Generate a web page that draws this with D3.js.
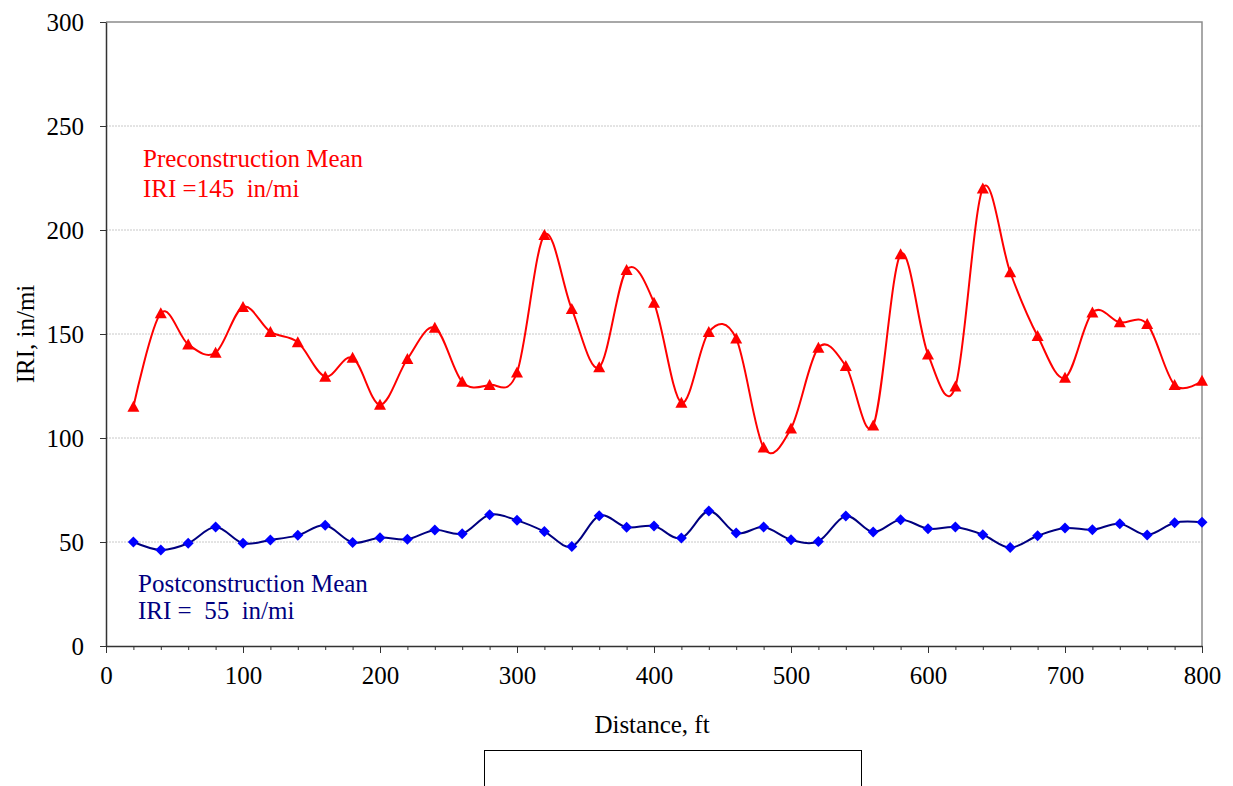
<!DOCTYPE html>
<html><head><meta charset="utf-8">
<script src="https://cdn.jsdelivr.net/npm/d3@7"></script>
<style>body{margin:0;background:#fff}svg{display:block}text{font-family:"Liberation Serif","Times New Roman",serif}</style>
</head><body>
<script>
const distance = d3.range(20, 801, 20);
const preIRI = [115,160,145,141,163,151,146,129.5,138.6,116,138,153,127,125.5,131.5,197.6,162,134,180.8,165,117,151,147.8,95.4,104.6,143.4,134.6,106,188.3,140.2,124.7,220,179.7,149,129,160.3,155.6,154.8,125.5,127.5];
const postIRI = [50,46.2,49.4,57.2,49.4,51,53.2,58,49.8,52.1,51.3,55.8,54,63.1,60.4,55,47.8,62.6,57.1,57.7,51.9,64.9,54.3,57.2,51.1,50.3,62.5,54.8,60.7,56.4,57.2,53.5,47.3,53,56.7,55.9,58.8,53.4,59.3,59.5];
const xTicks = [0,100,200,300,400,500,600,700,800];
const yTicks = [0,50,100,150,200,250,300];

const W = 1233, H = 786, FS = 25;
const svg = d3.select("body").append("svg").attr("width", W).attr("height", H);
const x = d3.scaleLinear().domain([0, 800]).range([106, 1202]);
const y = d3.scaleLinear().domain([0, 300]).range([646, 22]);

// gridlines
svg.append("g").selectAll("line").data(yTicks.filter(v => v > 0 && v < 300)).join("line")
  .attr("x1", x(0)).attr("x2", x(800)).attr("y1", d => y(d)).attr("y2", d => y(d))
  .attr("stroke", "#c8c8c8").attr("stroke-width", 1).attr("stroke-dasharray", "2,1");

// plot border top/right
svg.append("path").attr("d", `M${x(0)},${y(300)}H${x(800)}V${y(0)}`)
  .attr("fill", "none").attr("stroke", "#8c8c8c").attr("stroke-width", 1.5);

// axes
const xAxisMinor = d3.axisBottom(x).tickValues(d3.range(0, 801, 20)).tickSize(4).tickFormat("");
svg.append("g").attr("transform", `translate(0,${y(0)})`).call(xAxisMinor)
  .call(g => g.select(".domain").remove())
  .call(g => g.selectAll("line").attr("stroke", "#333"));
const xAxis = d3.axisBottom(x).tickValues(xTicks).tickSize(7).tickPadding(13).tickSizeOuter(0);
svg.append("g").attr("transform", `translate(0,${y(0)})`).call(xAxis)
  .call(g => g.select(".domain").attr("stroke", "#333").attr("stroke-width", 1.5))
  .call(g => g.selectAll("line").attr("stroke", "#333"))
  .call(g => g.selectAll("text").attr("font-size", FS).attr("fill", "#000")
    .attr("font-family", "Liberation Serif, Times New Roman, serif"));

const yAxis = d3.axisLeft(y).tickValues(yTicks).tickSize(6).tickPadding(16).tickSizeOuter(0);
svg.append("g").attr("transform", `translate(${x(0)},0)`).call(yAxis)
  .call(g => g.select(".domain").attr("stroke", "#333").attr("stroke-width", 1.5))
  .call(g => g.selectAll("line").attr("stroke", "#333"))
  .call(g => g.selectAll("text").attr("font-size", FS).attr("fill", "#000")
    .attr("font-family", "Liberation Serif, Times New Roman, serif"));

// axis titles
svg.append("text").attr("x", 652).attr("y", 733).attr("text-anchor", "middle")
  .attr("font-size", FS).text("Distance, ft");
svg.append("text").attr("transform", "translate(34,334) rotate(-90)").attr("text-anchor", "middle")
  .attr("font-size", FS).text("IRI, in/mi");

// lines
const line = d3.line().x((d, i) => x(distance[i])).y(d => y(d)).curve(d3.curveCatmullRom.alpha(0));
svg.append("path").datum(preIRI).attr("d", line).attr("fill", "none").attr("stroke", "#ff0000").attr("stroke-width", 2);
svg.append("path").datum(postIRI).attr("d", line).attr("fill", "none").attr("stroke", "#000080").attr("stroke-width", 2);

// markers
svg.append("g").selectAll("path").data(preIRI).join("path")
  .attr("transform", (d, i) => `translate(${x(distance[i])},${y(d)})`)
  .attr("d", "M0,-6L6,5L-6,5Z").attr("fill", "#ff0000");
svg.append("g").selectAll("path").data(postIRI).join("path")
  .attr("transform", (d, i) => `translate(${x(distance[i])},${y(d)})`)
  .attr("d", "M0,-5.5L5.5,0L0,5.5L-5.5,0Z").attr("fill", "#0000ff");

// annotations
svg.append("text").attr("x", 143).attr("y", 167).attr("font-size", FS).attr("fill", "#ff0000").text("Preconstruction Mean");
svg.append("text").attr("x", 143).attr("y", 197).attr("font-size", FS).attr("fill", "#ff0000").style("white-space", "pre").text("IRI =145  in/mi");
svg.append("text").attr("x", 138).attr("y", 592).attr("font-size", FS).attr("fill", "#000080").text("Postconstruction Mean");
svg.append("text").attr("x", 138).attr("y", 619).attr("font-size", FS).attr("fill", "#000080").style("white-space", "pre").text("IRI =  55  in/mi");

// legend box (cut off)
svg.append("rect").attr("x", 484.5).attr("y", 750.5).attr("width", 377).attr("height", 60)
  .attr("fill", "#fff").attr("stroke", "#000").attr("stroke-width", 1);
</script>
</body></html>
